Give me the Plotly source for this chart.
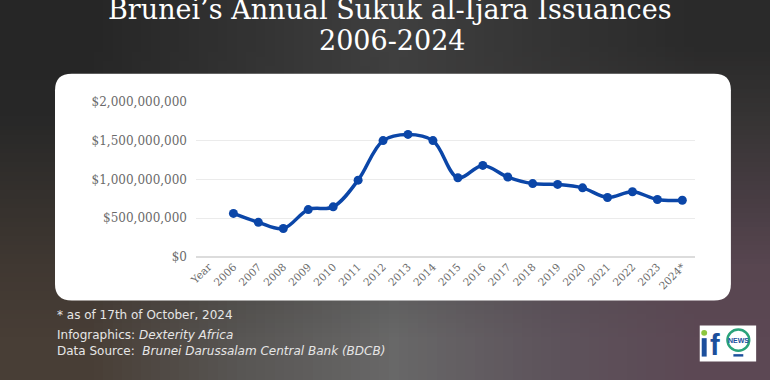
import base64
import struct
import zlib
import plotly.graph_objects as go

W, H = 770, 380

# ---------------- data ----------------
categories = ["Year", "2006", "2007", "2008", "2009", "2010", "2011", "2012", "2013",
              "2014", "2015", "2016", "2017", "2018", "2019", "2020", "2021", "2022",
              "2023", "2024*"]
issuances = [None, 560e6, 445e6, 365e6, 610e6, 645e6, 990e6, 1500e6, 1580e6,
             1500e6, 1020e6, 1180e6, 1030e6, 945e6, 935e6, 890e6, 765e6, 840e6,
             740e6, 730e6]
y_tickvals = [0, 500e6, 1000e6, 1500e6, 2000e6]
y_ticktext = ["$0", "$500,000,000", "$1,000,000,000", "$1,500,000,000", "$2,000,000,000"]

title_line1 = "Brunei’s Annual Sukuk al-Ijara Issuances"
title_line2 = "2006-2024"
note_text = "* as of 17th of October, 2024"
credit_text = "Infographics: <i>Dexterity Africa</i>"
source_text = "Data Source:\u00a0\u00a0<i>Brunei Darussalam Central Bank (BDCB)</i>"


# ---------------- helpers ----------------
def px(x):
    return x / W


def py(y):
    return 1 - y / H


def make_png(rows):
    # pad edges by repeating border pixels so smoothing never fades to transparent
    rows = [[row[0]] + list(row) + [row[-1]] for row in rows]
    rows = [rows[0]] + rows + [rows[-1]]
    h = len(rows)
    w = len(rows[0])
    raw = b"".join(b"\x00" + bytes([c for pix in row for c in pix]) for row in rows)

    def chunk(tag, data):
        c = struct.pack(">I", len(data)) + tag + data
        return c + struct.pack(">I", zlib.crc32(tag + data) & 0xFFFFFFFF)

    png = b"\x89PNG\r\n\x1a\n"
    png += chunk(b"IHDR", struct.pack(">IIBBBBB", w, h, 8, 2, 0, 0, 0))
    png += chunk(b"IDAT", zlib.compress(raw, 9))
    png += chunk(b"IEND", b"")
    return "data:image/png;base64," + base64.b64encode(png).decode(), w, h


bg_rows = [
    [(38, 38, 38), (50, 50, 50), (64, 64, 64), (52, 52, 52), (42, 42, 42)],
    [(40, 40, 40), (52, 52, 52), (62, 62, 62), (58, 56, 56), (54, 52, 52)],
    [(52, 48, 45), (60, 58, 56), (70, 70, 70), (70, 64, 68), (70, 60, 66)],
    [(64, 56, 50), (76, 73, 70), (90, 90, 90), (86, 76, 84), (88, 70, 80)],
    [(72, 62, 54), (88, 86, 84), (104, 104, 104), (94, 84, 92), (92, 72, 84)],
]
bg_src, bg_w, bg_h = make_png(bg_rows)
# inner 5x5 covers the paper; one padded cell on each side extends beyond it
cell_x = 1 / (bg_w - 2)
cell_y = 1 / (bg_h - 2)

fig = go.Figure()

fig.add_trace(go.Scatter(
    x=categories, y=issuances, mode="lines+markers",
    line=dict(color="#0b46a8", width=3.5, shape="spline", smoothing=1),
    marker=dict(color="#0b46a8", size=9),
    connectgaps=False, hoverinfo="x+y", showlegend=False,
))

# card (rounded white rectangle)
L, R, T, B, r = 47.5, 730.5, 70, 304, 17
card_path = (
    f"M {px(L + r)},{py(T)} L {px(R - r)},{py(T)} Q {px(R)},{py(T)} {px(R)},{py(T + r)} "
    f"L {px(R)},{py(B - r)} Q {px(R)},{py(B)} {px(R - r)},{py(B)} "
    f"L {px(L + r)},{py(B)} Q {px(L)},{py(B)} {px(L)},{py(B - r)} "
    f"L {px(L)},{py(T + r)} Q {px(L)},{py(T)} {px(L + r)},{py(T)} Z"
)

shapes = [
    dict(type="path", xref="paper", yref="paper", path=card_path,
         fillcolor="white", line=dict(width=0), layer="below"),
    # logo box
    dict(type="rect", xref="paper", yref="paper", x0=px(699), x1=px(756), y0=py(367), y1=py(330),
         fillcolor="white", line=dict(width=0), layer="above"),
    # "i" stem
    dict(type="rect", xref="paper", yref="paper", x0=px(701), x1=px(706), y0=py(362), y1=py(343),
         fillcolor="#1c4f9c", line=dict(width=0), layer="above"),
    # green dot of i
    dict(type="circle", xref="paper", yref="paper", x0=px(700.5), x1=px(706.5), y0=py(340.5), y1=py(334.5),
         fillcolor="#8cc63f", line=dict(width=0), layer="above"),
    # news ring
    dict(type="circle", xref="paper", yref="paper", x0=px(727), x1=px(749), y0=py(356), y1=py(334),
         fillcolor="rgba(0,0,0,0)", line=dict(color="#2aa37a", width=2.5), layer="above"),
    # underline dash
    dict(type="rect", xref="paper", yref="paper", x0=px(733), x1=px(743), y0=py(362), y1=py(359.5),
         fillcolor="#1c4f9c", line=dict(width=0), layer="above"),
]

annotations = [
    dict(text=title_line1, x=px(386), y=py(4), xref="paper", yref="paper", showarrow=False,
         xanchor="center", yanchor="middle", font=dict(family="DejaVu Serif", size=27, color="white")),
    dict(text=title_line2, x=px(389), y=py(36), xref="paper", yref="paper", showarrow=False,
         xanchor="center", yanchor="middle", font=dict(family="DejaVu Serif", size=27, color="white")),
    dict(text=note_text, x=px(47), y=py(319), xref="paper", yref="paper", showarrow=False,
         xanchor="left", yanchor="middle", font=dict(family="DejaVu Sans", size=12, color="#e6e6e6")),
    dict(text=credit_text + "<br>" + source_text, x=px(47), y=py(348.5), xref="paper", yref="paper",
         showarrow=False, align="left",
         xanchor="left", yanchor="middle", font=dict(family="DejaVu Sans", size=12, color="#e6e6e6")),
    dict(text="<b>f</b>", x=px(714), y=py(350), xref="paper", yref="paper", showarrow=False,
         xanchor="center", yanchor="middle",
         font=dict(family="Liberation Sans", size=29, color="#1c4f9c")),
    dict(text="<b>NEWS</b>", x=px(738), y=py(345), xref="paper", yref="paper", showarrow=False,
         xanchor="center", yanchor="middle",
         font=dict(family="Liberation Sans Narrow, Liberation Sans", size=7, color="#1c4f9c")),
]

fig.update_layout(
    width=W, height=H, autosize=False,
    margin=dict(l=0, r=0, t=0, b=0, pad=0),
    paper_bgcolor="#3c3c3c", plot_bgcolor="rgba(0,0,0,0)",
    showlegend=False,
    shapes=shapes, annotations=annotations,
    images=[dict(source=bg_src, xref="paper", yref="paper", x=-cell_x, y=1 + cell_y,
                 sizex=1 + 2 * cell_x, sizey=1 + 2 * cell_y, sizing="stretch",
                 xanchor="left", yanchor="top", layer="below")],
    xaxis=dict(domain=[px(190), px(694)], type="category", range=[-0.5, 19.5],
               showgrid=False, zeroline=False, showline=False, ticks="",
               tickangle=-45, tickfont=dict(family="DejaVu Serif", size=10.5, color="#6a6a6a"),
               fixedrange=True),
    yaxis=dict(domain=[1 - 260 / H, 1 - 98 / H], range=[-0.0125e9, 2.0125e9],
               tickvals=y_tickvals, ticktext=y_ticktext,
               showgrid=True, gridcolor="#ebebeb", gridwidth=1,
               zeroline=True, zerolinecolor="#dcdcdc", zerolinewidth=2,
               showline=False, ticks="", ticklabelstandoff=8,
               tickfont=dict(family="DejaVu Serif", size=12, color="#6a6a6a"),
               fixedrange=True),
)

fig.write_html(
    "out.html",
    config={"displayModeBar": False},
    post_script="document.body.style.margin='0';document.body.style.padding='0';"
                "document.body.style.overflow='hidden';document.documentElement.style.overflow='hidden';",
)
